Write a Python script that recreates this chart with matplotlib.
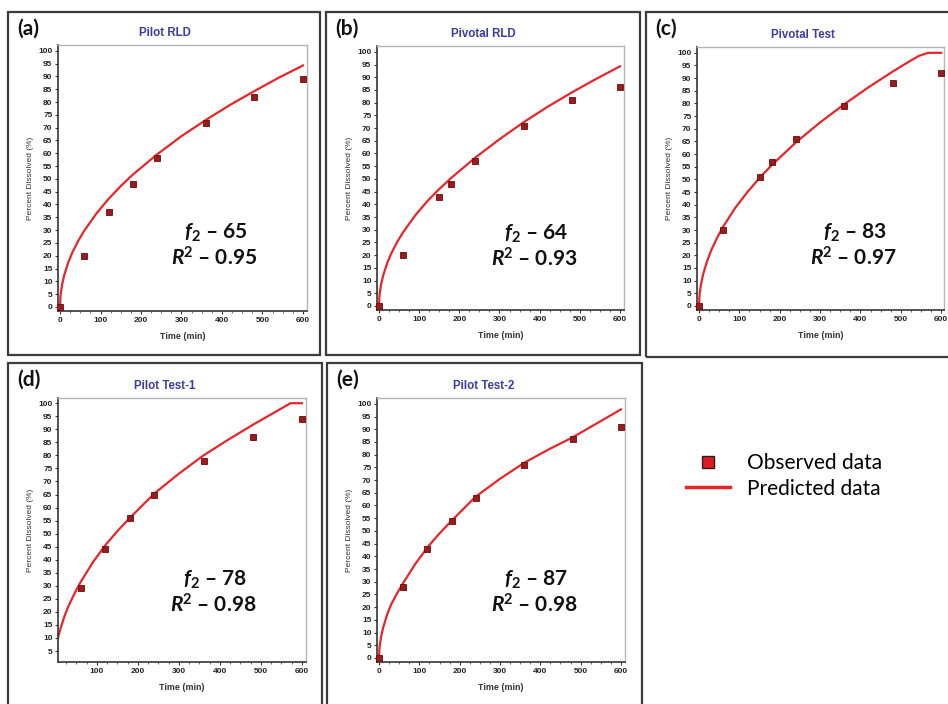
import matplotlib
matplotlib.use("Agg")
import matplotlib.pyplot as plt
from matplotlib.lines import Line2D
from matplotlib.patches import Rectangle
from matplotlib.ticker import MultipleLocator

plt.rcParams["mathtext.fontset"] = "custom"
plt.rcParams["mathtext.rm"] = "Lato:bold"
plt.rcParams["mathtext.bf"] = "Lato:bold"
plt.rcParams["mathtext.it"] = "Lato:italic:bold"
plt.rcParams["mathtext.bfit"] = "Lato:italic:bold"

W, H = 948, 704

# observed dissolution points
obs_t_a = [0, 60, 120, 180, 240, 360, 480, 600]
obs_y_a = [0, 20, 37, 48, 58, 72, 82, 89]
obs_t_b = [0, 60, 150, 180, 240, 360, 480, 600]
obs_y_b = [0, 20, 43, 48, 57, 71, 81, 86]
obs_t_c = [0, 60, 150, 180, 240, 360, 480, 600]
obs_y_c = [0, 30, 51, 57, 66, 79, 88, 92]
obs_t_d = [60, 120, 180, 240, 360, 480, 600]
obs_y_d = [29, 44, 56, 65, 78, 87, 94]
obs_t_e = [0, 60, 120, 180, 240, 360, 480, 600]
obs_y_e = [0, 28, 43, 54, 63, 76, 86, 91]

# predicted curves
pred_t_a = [0, 1, 2, 5, 10, 20, 30, 45, 60, 90, 120, 150, 180, 240, 300, 360, 420, 480, 540, 600]
pred_y_a = [0, 3.9, 5.4, 8.6, 12.2, 17.2, 21.1, 25.8, 29.8, 36.5, 42.2, 47.2, 51.7, 59.6, 66.7, 73.0, 78.9, 84.3, 89.5, 94.3]
pred_t_b = [0, 1, 2, 5, 10, 20, 30, 45, 60, 90, 120, 150, 180, 240, 300, 360, 420, 480, 540, 600]
pred_y_b = [0, 3.7, 5.2, 8.3, 11.8, 16.7, 20.5, 25.1, 29.0, 35.6, 41.2, 46.0, 50.4, 58.4, 65.6, 72.3, 78.4, 84.0, 89.3, 94.3]
pred_t_c = [0, 1, 2, 5, 10, 20, 30, 45, 60, 90, 120, 150, 180, 240, 300, 360, 420, 480, 520, 545, 568, 600]
pred_y_c = [0, 3.7, 5.4, 8.6, 12.4, 17.7, 21.9, 27.0, 31.4, 38.8, 45.0, 50.6, 55.6, 64.6, 72.5, 79.7, 86.4, 92.6, 96.5, 98.8, 100, 100]
pred_t_d = [5, 10, 20, 30, 45, 60, 90, 120, 150, 180, 240, 300, 360, 420, 480, 520, 548, 572, 600]
pred_y_d = [10, 13, 18, 22, 27, 31.4, 39, 45.5, 51, 56, 65.4, 73, 80, 86, 91.7, 95.3, 97.8, 100, 100]
pred_t_e = [0, 1, 2, 5, 10, 20, 30, 45, 60, 90, 120, 150, 180, 240, 300, 360, 420, 480, 540, 600]
pred_y_e = [0, 3.5, 5.0, 8.2, 11.8, 17.0, 21.0, 25.5, 29.5, 37.0, 43.5, 49.0, 54.0, 63.5, 70.5, 76.8, 82.0, 86.8, 92.3, 97.8]

labels = ["(a)", "(b)", "(c)", "(d)", "(e)"]
titles = ["Pilot RLD", "Pivotal RLD", "Pivotal Test", "Pilot Test-1", "Pilot Test-2"]
f2_values = ["65", "64", "83", "78", "87"]
r2_values = ["0.95", "0.93", "0.97", "0.98", "0.98"]


def fx(x):
    return x / W


def fy(y):
    return 1 - y / H


def draw_panel(fig, box, axes_px, lim, obs, pred, label, title, f2, r2, text_xy, title_x, yticks):
    bx0, by0, bx1, by1 = box
    fig.patches.append(Rectangle((fx(bx0), fy(by1)), (bx1 - bx0) / W, (by1 - by0) / H,
                                 transform=fig.transFigure, fill=False, ec="#3c3c3c", lw=1.6))
    l, t, r, b = axes_px
    ax = fig.add_axes([fx(l), fy(b), (r - l) / W, (b - t) / H])
    ax.plot(pred[0], pred[1], color="#e8262a", lw=1.6, zorder=2)
    ax.plot(obs[0], obs[1], "s", ms=4.3, mfc="#9b1b1b", mec="#6a0c0c", mew=0.6, zorder=3, clip_on=False)
    ax.set_xlim(lim[0])
    ax.set_ylim(lim[1])
    ax.set_yticks(yticks)
    ax.xaxis.set_major_locator(MultipleLocator(100))
    ax.xaxis.set_minor_locator(MultipleLocator(25))
    ax.tick_params(axis="both", which="major", labelsize=6, length=2.5, width=0.8, pad=1.5,
                   colors="#333333", labelcolor="#222222")
    ax.tick_params(axis="x", which="minor", length=1.5, width=0.6, colors="#555555")
    for lab in ax.get_xticklabels() + ax.get_yticklabels():
        lab.set_fontweight("bold")
        lab.set_family("Liberation Sans")
    for side in ["left", "bottom"]:
        ax.spines[side].set_color("#333333")
        ax.spines[side].set_linewidth(1.2)
    for side in ["top", "right"]:
        ax.spines[side].set_color("#b5b5b5")
        ax.spines[side].set_linewidth(1.0)
    ax.set_ylabel("Percent Dissolved (%)", fontsize=6, family="Liberation Sans", color="#333333", labelpad=3)
    ax.set_xlabel("Time (min)", fontsize=6.4, fontweight="bold", family="Liberation Sans",
                  color="#333333", labelpad=6)
    fig.text(fx(box[0] + 9), fy(box[1] + 17), label, fontsize=15, fontweight="bold", family="Lato",
             va="center", ha="left", color="#111111")
    fig.text(fx(title_x), fy(t - 12), title, fontsize=8.3, fontweight="bold", family="Liberation Sans",
             color="#3a3aa8", ha="center", va="center")
    tx, ty = text_xy
    fig.text(fx(tx), fy(ty), r"$\mathbfit{f}_{\mathbf{2}}$" + " \u2013 " + f2, fontsize=15,
             fontweight="bold", family="Lato", ha="center", va="center", color="#111111")
    fig.text(fx(tx - 2), fy(ty + 25), r"$\mathbfit{R}^{\mathbf{2}}$" + " \u2013 " + r2, fontsize=15,
             fontweight="bold", family="Lato", ha="center", va="center", color="#111111")
    return ax


fig = plt.figure(figsize=(W / 100, H / 100), dpi=100)
fig.patch.set_facecolor("white")

full_ticks = list(range(0, 101, 5))
lim_std = ((-5, 610), (-1.6, 102.3))

draw_panel(fig, (8, 12, 320, 355), (58, 45, 307, 311), lim_std, (obs_t_a, obs_y_a), (pred_t_a, pred_y_a),
           labels[0], titles[0], f2_values[0], r2_values[0], (216, 233), 165, full_ticks)
draw_panel(fig, (326, 12, 640, 355), (377, 46, 624, 310), lim_std, (obs_t_b, obs_y_b), (pred_t_b, pred_y_b),
           labels[1], titles[1], f2_values[1], r2_values[1], (536, 234), 483, full_ticks)
draw_panel(fig, (646, 12, 951, 357), (697, 47, 944, 310), ((-5, 607), (-1.6, 102.3)), (obs_t_c, obs_y_c),
           (pred_t_c, pred_y_c), labels[2], titles[2], f2_values[2], r2_values[2], (855, 233), 803, full_ticks)
draw_panel(fig, (8, 363, 322, 707), (58, 398, 306, 662), ((5, 610), (0.8, 102)), (obs_t_d, obs_y_d),
           (pred_t_d, pred_y_d), labels[3], titles[3], f2_values[3], r2_values[3], (215, 580), 165,
           list(range(5, 101, 5)))
draw_panel(fig, (327, 363, 642, 707), (377, 398, 625, 662), lim_std, (obs_t_e, obs_y_e), (pred_t_e, pred_y_e),
           labels[4], titles[4], f2_values[4], r2_values[4], (536, 580), 484, full_ticks)

handles = [
    Line2D([], [], ls="none", marker="s", ms=8, mfc="#e0191f", mec="#222222", mew=1.0),
    Line2D([], [], color="#e8262a", lw=2.5),
]
fig.legend(handles, ["Observed data", "Predicted data"], loc="center left",
           bbox_to_anchor=(fx(686), fy(476)), frameon=False, handlelength=2.1,
           handletextpad=0.85, borderpad=0, borderaxespad=0, labelspacing=0.25,
           prop={"family": "Lato", "size": 15})

fig.savefig("out.png", dpi=100, facecolor="white")
plt.close(fig)
